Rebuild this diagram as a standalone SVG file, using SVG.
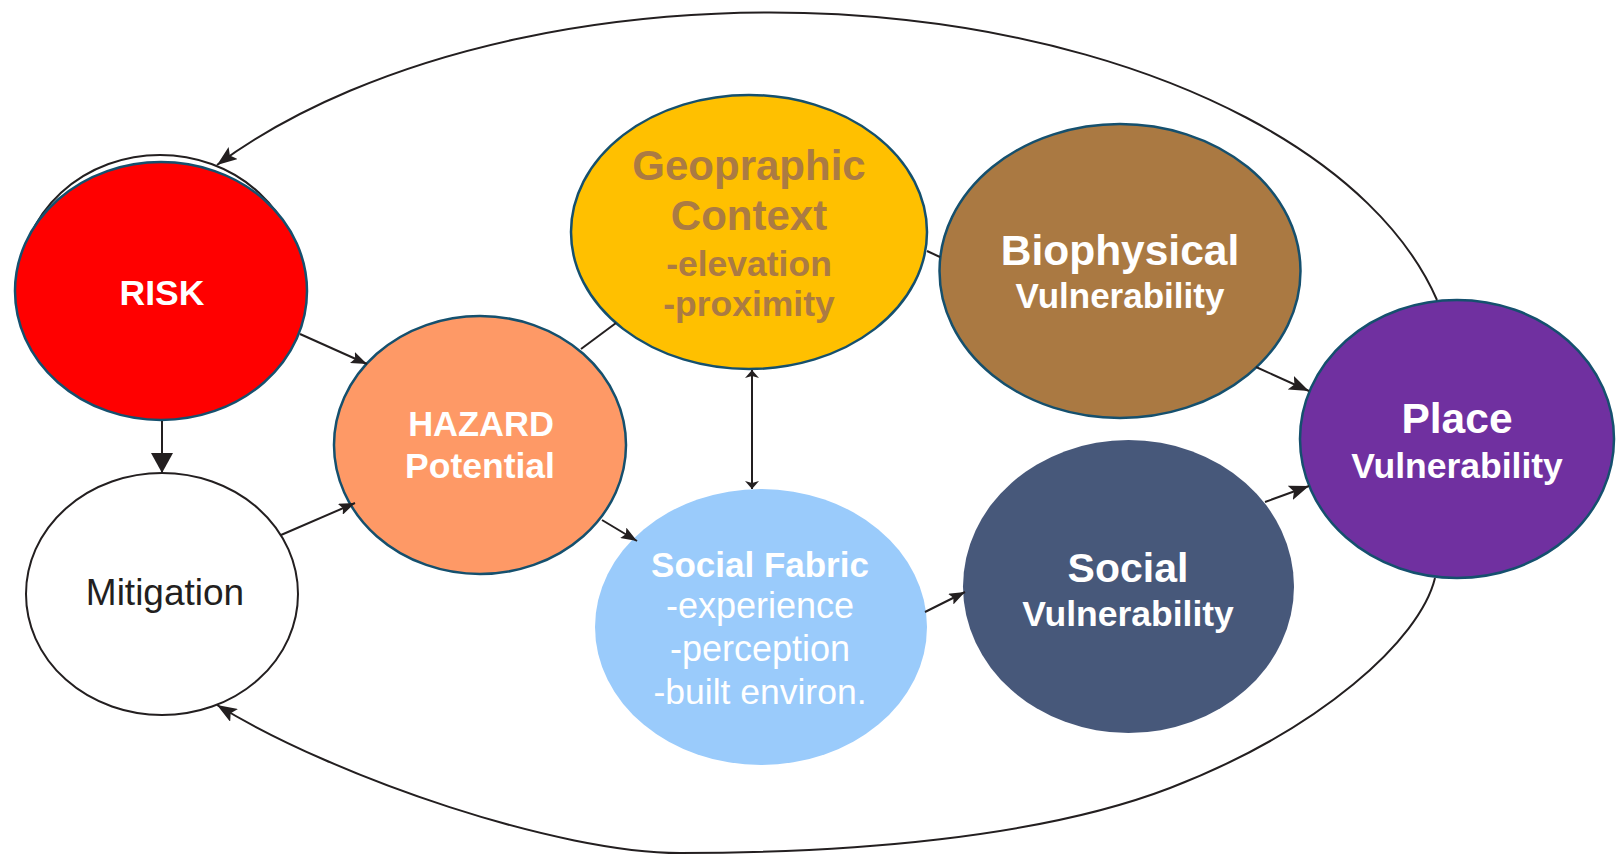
<svg xmlns="http://www.w3.org/2000/svg" width="1621" height="855" viewBox="0 0 1621 855">
<style>
.node{stroke:#15506E;stroke-width:2.5}
.b{font-family:"Liberation Sans",Arial,sans-serif;font-weight:bold;text-anchor:middle;fill:#FFFFFF}
.r{font-family:"Liberation Sans",Arial,sans-serif;text-anchor:middle;fill:#FFFFFF}
.geo{fill:#AB7B43}
.conn{fill:none;stroke:#231F20;stroke-width:2}
</style>
<defs>
<marker id="ah" markerUnits="userSpaceOnUse" markerWidth="20" markerHeight="15" refX="20" refY="7.5" orient="auto">
<path d="M0,0 L20,7.5 L0,15 L4,7.5 z" fill="#231F20"/>
</marker>
<marker id="ahs" markerUnits="userSpaceOnUse" markerWidth="16" markerHeight="12" refX="16" refY="6" orient="auto">
<path d="M0,0 L16,6 L0,12 L3,6 z" fill="#231F20"/>
</marker>
<marker id="ahb" markerUnits="userSpaceOnUse" markerWidth="20" markerHeight="22" refX="20" refY="11" orient="auto">
<path d="M0,0 L20,11 L0,22 z" fill="#231F20"/>
</marker>
<marker id="aht" markerUnits="userSpaceOnUse" markerWidth="8" markerHeight="14" refX="8" refY="7" orient="auto-start-reverse">
<path d="M0,0 L8,7 L0,14 L2,7 z" fill="#231F20"/>
</marker>
</defs>
<rect width="1621" height="855" fill="#FFFFFF"/>

<g id="risk">
<ellipse cx="160" cy="284" rx="140" ry="129" fill="none" stroke="#231F20" stroke-width="2"/>
<ellipse class="node" cx="161" cy="291" rx="146" ry="129" fill="#FF0000"/>
<text class="b" x="162" y="305" font-size="35.5">RISK</text>
</g>

<g id="mitigation">
<ellipse cx="162" cy="594" rx="136" ry="121" fill="#FFFFFF" stroke="#231F20" stroke-width="2"/>
<text x="165" y="605" font-size="37" font-family="Liberation Sans,Arial,sans-serif" text-anchor="middle" fill="#231F20">Mitigation</text>
</g>

<g id="hazard">
<ellipse class="node" cx="480" cy="445" rx="146" ry="129" fill="#FE9966"/>
<text class="b" x="481" y="436" font-size="34.5">HAZARD</text>
<text class="b" x="480" y="478" font-size="35.5">Potential</text>
</g>

<g id="geographic">
<ellipse class="node" cx="749" cy="232" rx="178" ry="137" fill="#FFC000"/>
<text class="b geo" x="749" y="180" font-size="42">Geopraphic</text>
<text class="b geo" x="749" y="230" font-size="42">Context</text>
<text class="b geo" x="749" y="276" font-size="35.5">-elevation</text>
<text class="b geo" x="749" y="316" font-size="35.5">-proximity</text>
</g>

<g id="biophysical">
<ellipse class="node" cx="1120" cy="271" rx="180.5" ry="147" fill="#AA7942"/>
<text class="b" x="1120" y="265" font-size="42.5">Biophysical</text>
<text class="b" x="1120" y="308" font-size="35">Vulnerability</text>
</g>

<g id="socialfabric">
<ellipse cx="761" cy="627" rx="166" ry="138" fill="#9ACBFB"/>
<text class="b" x="760" y="577" font-size="35">Social Fabric</text>
<text class="r" x="760" y="618" font-size="36">-experience</text>
<text class="r" x="760" y="661" font-size="36">-perception</text>
<text class="r" x="760" y="704" font-size="35.5">-built environ.</text>
</g>

<g id="socialvuln">
<ellipse cx="1128.5" cy="586.5" rx="165.5" ry="146.5" fill="#47587A"/>
<text class="b" x="1128" y="582" font-size="41">Social</text>
<text class="b" x="1128" y="626" font-size="35.5">Vulnerability</text>
</g>

<g id="place">
<ellipse class="node" cx="1457" cy="439" rx="157" ry="139" fill="#7030A0"/>
<text class="b" x="1457" y="433" font-size="42.5">Place</text>
<text class="b" x="1457" y="478" font-size="35.5">Vulnerability</text>
</g>

<g id="connectors">
<path class="conn" d="M1437,300 A686,374 0 0 0 217,165" marker-end="url(#ah)"/>
<path class="conn" d="M1435,578 C1420,640 1320,730 1170,788 C1040,838 850,853 680,853 C560,853 340,780 217,705" marker-end="url(#ah)"/>
<line class="conn" x1="162" y1="421" x2="162" y2="473" stroke-width="3.5" marker-end="url(#ahb)"/>
<line class="conn" x1="300" y1="334" x2="367" y2="364" marker-end="url(#ahs)"/>
<line class="conn" x1="281" y1="535" x2="355" y2="503" marker-end="url(#ahs)"/>
<line class="conn" x1="602" y1="520" x2="637" y2="541" marker-end="url(#ahs)"/>
<line class="conn" x1="581" y1="349" x2="616" y2="323"/>
<line class="conn" x1="927" y1="251" x2="940" y2="257"/>
<line class="conn" x1="752" y1="370" x2="752" y2="489" marker-start="url(#aht)" marker-end="url(#aht)"/>
<line class="conn" x1="925" y1="612" x2="965" y2="592" marker-end="url(#ahs)"/>
<line class="conn" x1="1256" y1="367" x2="1309" y2="391" marker-end="url(#ah)"/>
<line class="conn" x1="1265" y1="502" x2="1309" y2="486" marker-end="url(#ah)"/>
</g>
</svg>
